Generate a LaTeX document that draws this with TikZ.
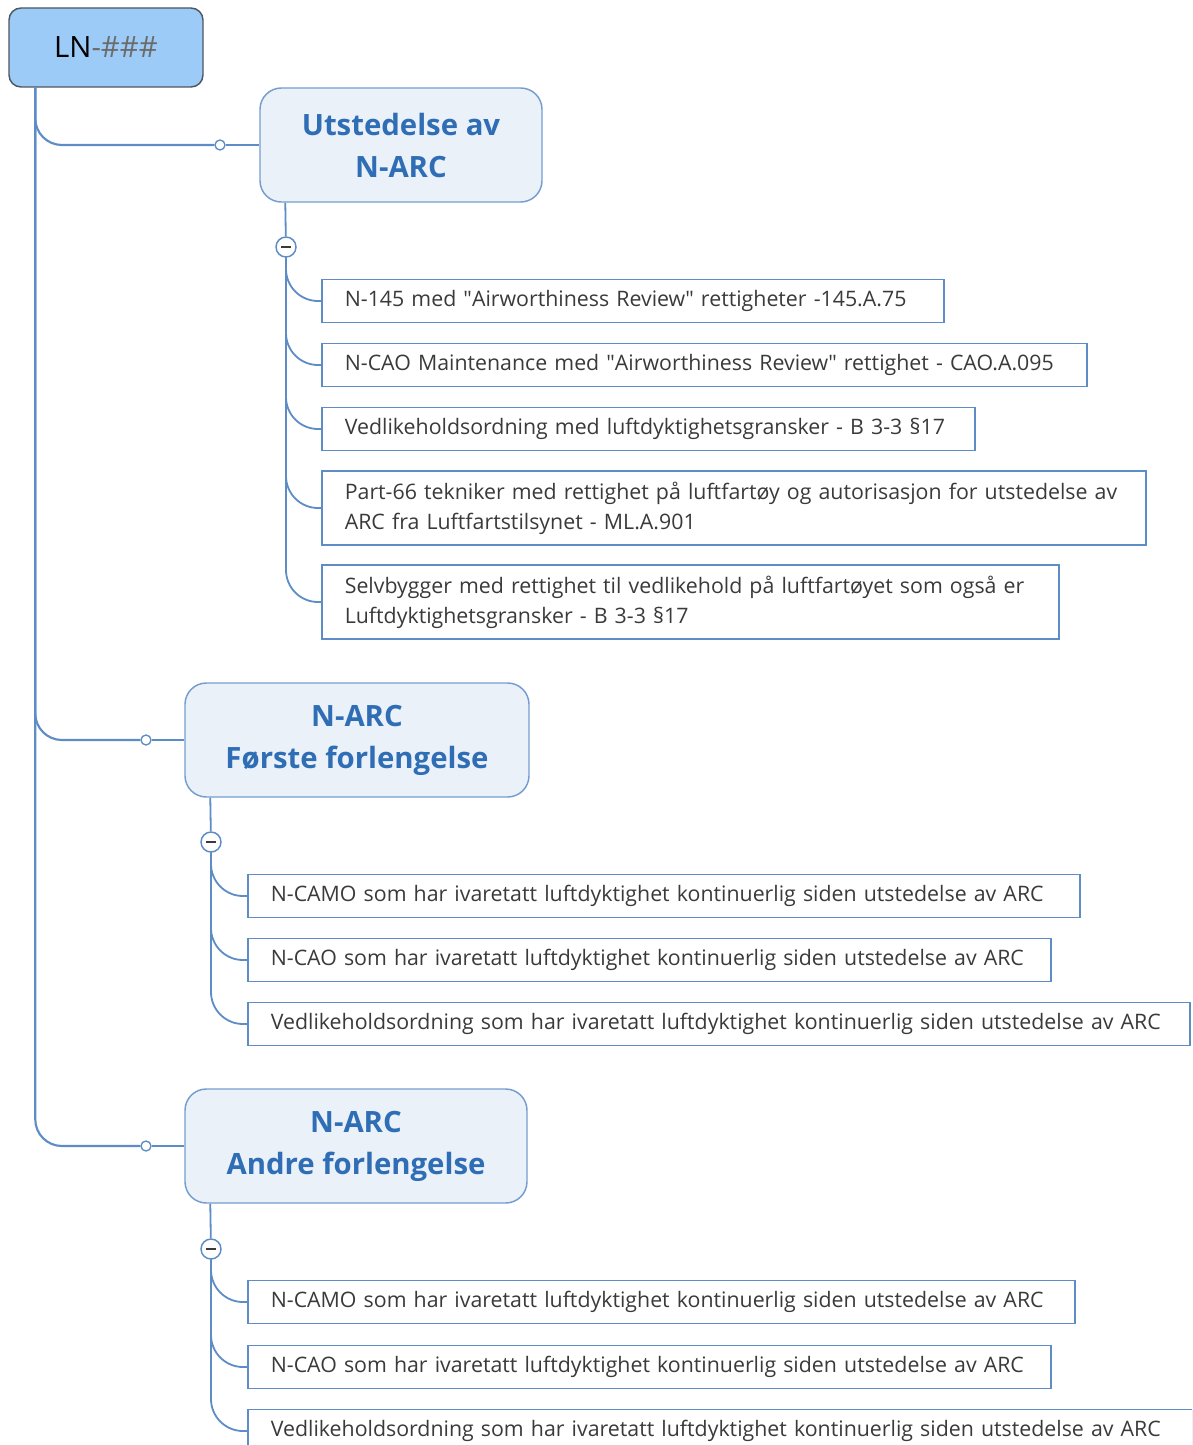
\documentclass[tikz,border=0pt]{standalone}
\usepackage{fontspec}
\setmainfont{Open Sans}
\usetikzlibrary{positioning}
\definecolor{croot}{HTML}{9DCBF8}
\definecolor{crootline}{HTML}{4E5661}
\definecolor{ctopic}{HTML}{EBF1F9}
\definecolor{cline}{HTML}{5D8CC6}
\definecolor{chead}{HTML}{2F6DB5}
\definecolor{ctext}{HTML}{3A3A3A}
\definecolor{cgrey}{HTML}{6B6B6B}
\tikzset{
  root/.style={draw=crootline, fill=croot, rounded corners=9pt, line width=1.1pt, minimum width=145.5pt, minimum height=59.25pt, font=\fontsize{22}{26}\selectfont},
  topic/.style={draw=cline!85, fill=ctopic, rounded corners=16pt, line width=1.1pt, minimum height=85.5pt, align=center, text=chead, font=\fontsize{22}{31.5}\selectfont\bfseries},
  item/.style={draw=cline, line width=1.2pt, anchor=west, align=left, inner xsep=17.25pt, inner ysep=0pt, text=ctext, font=\fontsize{16}{22.5}\selectfont},
  link/.style={draw=cline, line width=1.35pt},
  trunk/.style={link, line width=1.6pt, rounded corners=20pt},
  twig/.style={link, rounded corners=24pt},
  knob/.style={circle, draw=cline, fill=white, line width=1pt, inner sep=0pt, minimum size=7.5pt},
  fold/.style={circle, draw=cline, fill=white, line width=1.1pt, inner sep=0pt, minimum size=15pt,
    path picture={\draw[ctext, line width=1.4pt] ([xshift=-3.6pt]path picture bounding box.center) -- ([xshift=3.6pt]path picture bounding box.center);}},
}
\begin{document}
\begin{tikzpicture}[x=0.75pt,y=-0.75pt]
\clip (0,0) rectangle (1192,1445);
\node[root] (ln) at (106,47.5) {LN\textcolor{cgrey}{-\#\#\#}};
\node[topic, minimum width=211.5pt] (utst) at (401,145) {Utstedelse av\\N-ARC};
\node[topic, minimum width=258pt] (forl1) at (357,740) {N-ARC\\Første forlengelse};
\node[topic, minimum width=256.5pt] (forl2) at (356,1146) {N-ARC\\Andre forlengelse};
\coordinate (lnfoot) at ([xshift=20.25pt]ln.south west);
\foreach \k/\t/\kx/\ky in {k1/utst/220/145, k2/forl1/146/740, k3/forl2/146/1146}{
  \node[knob] (\k) at (\kx,\ky) {};
  \draw[trunk] (lnfoot) |- (\k);
  \draw[link] (\k) -- (\t);
}
\foreach \t/\f/\fx/\fy in {utst/f1/286/247, forl1/f2/211/842, forl2/f3/211/1249}{
  \coordinate (\t foot) at ([xshift=19.5pt]\t.south west);
  \node[fold] (\f) at (\fx,\fy) {};
  \draw[link] (\t foot) -- (\f);
}
\foreach \n/\y/\w/\h/\txt in {
  a1/301/432pt/32.25pt/{N-145 med \textquotedbl Airworthiness Review\textquotedbl{} rettigheter -145.A.75},
  a2/365/539.25pt/32.25pt/{N-CAO Maintenance med \textquotedbl Airworthiness Review\textquotedbl{} rettighet - CAO.A.095},
  a3/429/455.25pt/32.25pt/{Vedlikeholdsordning med luftdyktighetsgransker - B 3-3 §17},
  a4/508/583.5pt/55.5pt/{Part-66 tekniker med rettighet på luftfartøy og autorisasjon for utstedelse av\\ARC fra Luftfartstilsynet - ML.A.901},
  a5/602/518.25pt/55.5pt/{Selvbygger med rettighet til vedlikehold på luftfartøyet som også er\\Luftdyktighetsgransker - B 3-3 §17}}{
  \node[item, text width=\w, minimum height=\h] (\n) at (321,\y) {\txt};
  \draw[twig] (f1) |- (\n);
}
\foreach \n/\y/\w/\f/\txt in {
  b1/896/589.5pt/f2/{N-CAMO som har ivaretatt luftdyktighet kontinuerlig siden utstedelse av ARC},
  b2/960/567.75pt/f2/{N-CAO som har ivaretatt luftdyktighet kontinuerlig siden utstedelse av ARC},
  b3/1024/672pt/f2/{Vedlikeholdsordning som har ivaretatt luftdyktighet kontinuerlig siden utstedelse av ARC},
  c1/1302/585.75pt/f3/{N-CAMO som har ivaretatt luftdyktighet kontinuerlig siden utstedelse av ARC},
  c2/1367/567.75pt/f3/{N-CAO som har ivaretatt luftdyktighet kontinuerlig siden utstedelse av ARC},
  c3/1431/674.25pt/f3/{Vedlikeholdsordning som har ivaretatt luftdyktighet kontinuerlig siden utstedelse av ARC}}{
  \node[item, text width=\w, minimum height=32.25pt] (\n) at (247,\y) {\txt};
  \draw[twig] (\f) |- (\n);
}
\end{tikzpicture}
\end{document}
